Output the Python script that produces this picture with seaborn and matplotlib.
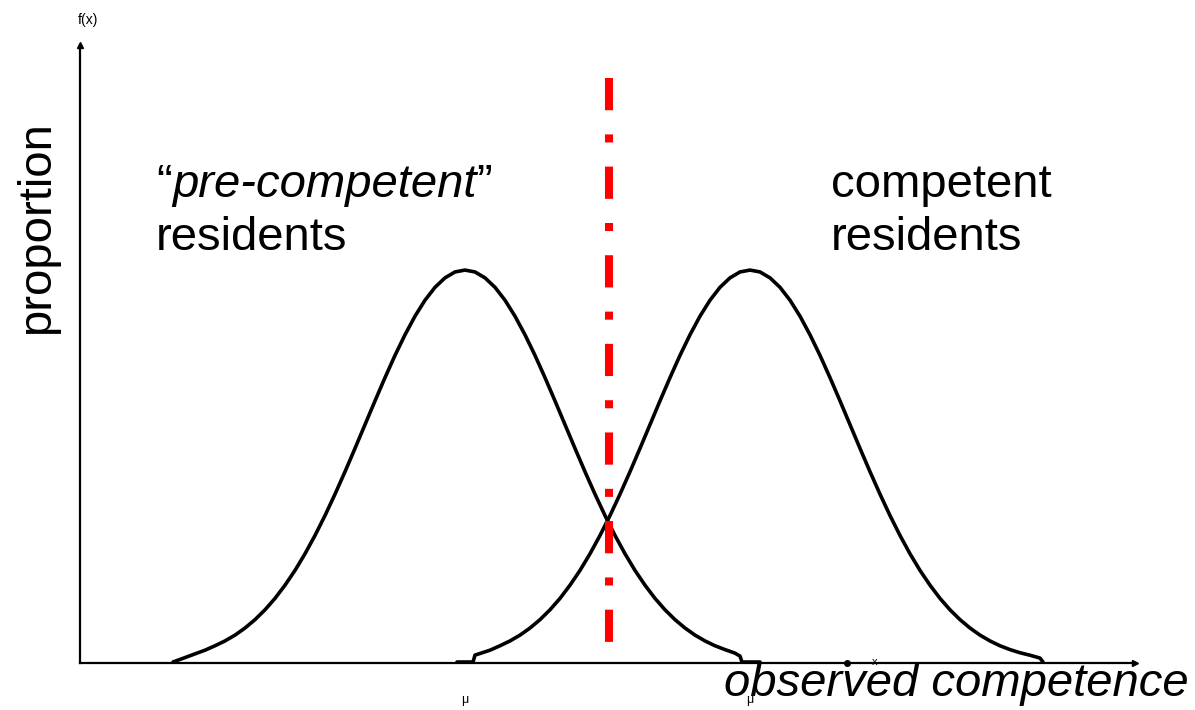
import pandas as pd
import matplotlib.pyplot as plt
import seaborn as sns

# ── Data (x in sd-like units, y as density) ───────────────────────────────────
pre_x = [0.93, 1.09, 1.25,
         1.35, 1.45, 1.55, 1.65, 1.75, 1.85, 1.95, 2.05, 2.15, 2.25, 2.35,
         2.45, 2.55, 2.65, 2.75, 2.85, 2.95, 3.05, 3.15, 3.25, 3.35, 3.45,
         3.55, 3.65, 3.75, 3.85, 3.95, 4.05, 4.15, 4.25, 4.35, 4.45, 4.55,
         4.65, 4.75, 4.85, 4.95, 5.05, 5.15, 5.25, 5.35, 5.45, 5.55, 5.65,
         5.75, 5.85, 5.95, 6.05, 6.15, 6.25, 6.35,
         6.45, 6.55, 6.60, 6.62, 6.80]
pre_y = [0.001, 0.007, 0.013,
         0.0175, 0.0224, 0.0283, 0.0355, 0.044, 0.054, 0.0656, 0.079, 0.094,
         0.1109, 0.1295, 0.1497, 0.1714, 0.1942, 0.2179, 0.242, 0.2661,
         0.2897, 0.3123, 0.3332, 0.3521, 0.3683, 0.3814, 0.391, 0.397, 0.3989,
         0.397, 0.391, 0.3814, 0.3683, 0.3521, 0.3332, 0.3123, 0.2897, 0.2661,
         0.242, 0.2179, 0.1942, 0.1714, 0.1497, 0.1295, 0.1109, 0.094, 0.079,
         0.0656, 0.054, 0.044, 0.0355, 0.0283, 0.0224, 0.0175,
         0.0136, 0.010, 0.007, 0.001, 0.001]

comp_x = [3.77, 3.93, 3.95, 4.10,
          4.20, 4.30, 4.40, 4.50, 4.60, 4.70, 4.80, 4.90, 5.00, 5.10, 5.20,
          5.30, 5.40, 5.50, 5.60, 5.70, 5.80, 5.90, 6.00, 6.10, 6.20, 6.30,
          6.40, 6.50, 6.60, 6.70, 6.80, 6.90, 7.00, 7.10, 7.20, 7.30, 7.40,
          7.50, 7.60, 7.70, 7.80, 7.90, 8.00, 8.10, 8.20, 8.30, 8.40, 8.50,
          8.60, 8.70, 8.80, 8.90, 9.00, 9.10, 9.20,
          9.30, 9.40, 9.50, 9.60, 9.63]
comp_y = [0.001, 0.001, 0.008, 0.013,
          0.0175, 0.0224, 0.0283, 0.0355, 0.044, 0.054, 0.0656, 0.079, 0.094,
          0.1109, 0.1295, 0.1497, 0.1714, 0.1942, 0.2179, 0.242, 0.2661,
          0.2897, 0.3123, 0.3332, 0.3521, 0.3683, 0.3814, 0.391, 0.397, 0.3989,
          0.397, 0.391, 0.3814, 0.3683, 0.3521, 0.3332, 0.3123, 0.2897, 0.2661,
          0.242, 0.2179, 0.1942, 0.1714, 0.1497, 0.1295, 0.1109, 0.094, 0.079,
          0.0656, 0.054, 0.044, 0.0355, 0.0283, 0.0224, 0.0175,
          0.0136, 0.0104, 0.0079, 0.005, 0.001]

cutoff_x = 5.29
cutoff_top = 0.594
mu_ticks = [3.85, 6.70]
mu_labels = ['μ', 'μ']
axis_dot_x = [7.67]

x_max = 10.55
y_max = 0.6274

# ── Style ──────────────────────────────────────────────────────────────────────
sns.set_theme(style='white')
plt.rcParams['font.family'] = ['Liberation Sans', 'DejaVu Sans']
plt.rcParams['text.color'] = 'black'
plt.rcParams['xtick.color'] = 'black'

W, H = 1195, 710
fig = plt.figure(figsize=(W / 100, H / 100), dpi=100)
ax = fig.add_axes([80 / W, (H - 663) / H, (1135 - 80) / W, (663 - 45) / H])

df = pd.DataFrame({
    'x': pre_x + comp_x,
    'y': pre_y + comp_y,
    'group': ['pre'] * len(pre_x) + ['comp'] * len(comp_x),
})
sns.lineplot(data=df, x='x', y='y', units='group', estimator=None, sort=False,
             color='black', linewidth=2.6, ax=ax, zorder=3)

# cutoff line, drawn top-down so the dashes start at the top
ax.plot([cutoff_x, cutoff_x], [cutoff_top, 0], color='#ff0000', linewidth=5.8,
        linestyle=(0, (4, 3, 1, 3)), solid_capstyle='butt', zorder=4,
        clip_on=False)

ax.plot(axis_dot_x, [0] * len(axis_dot_x), 'o', color='black', ms=4,
        clip_on=False, zorder=5)

ax.set_xlim(0, x_max)
ax.set_ylim(0, y_max)
for s in ['top', 'right']:
    ax.spines[s].set_visible(False)
for s in ['left', 'bottom']:
    ax.spines[s].set_color('black')
    ax.spines[s].set_linewidth(1.6)
ax.set_yticks([])
ax.set_xticks(mu_ticks)
ax.set_xticklabels(mu_labels, fontsize=9)
ax.tick_params(axis='x', length=0, pad=22)
ax.set_xlabel('')
ax.set_ylabel('')

# arrow heads
ax.plot(1, 0, '>', color='black', ms=5, transform=ax.get_yaxis_transform(), clip_on=False)
ax.plot(0, 1, '^', color='black', ms=5, transform=ax.get_xaxis_transform(), clip_on=False)


def px(x, y):
    return x / W, 1 - y / H


big = 34
fig.text(*px(88, 20), 'f(x)', fontsize=10, ha='center', va='center')
fig.text(*px(875, 662), 'x', fontsize=8, ha='center', va='center')
fig.text(*px(37, 228), 'proportion', fontsize=big, rotation=90,
         ha='center', va='center')

q1 = fig.text(*px(156, 197), '\u201c', fontsize=big, ha='left', va='baseline')
q2 = ax.annotate('pre-competent', xy=(1, 0), xycoords=q1, fontsize=big,
                 style='italic', ha='left', va='bottom')
ax.annotate('\u201d', xy=(1, 0), xycoords=q2, fontsize=big, ha='left', va='bottom')
fig.text(*px(156, 250), 'residents', fontsize=big, ha='left', va='baseline')

fig.text(*px(831, 197), 'competent', fontsize=big, ha='left', va='baseline')
fig.text(*px(831, 250), 'residents', fontsize=big, ha='left', va='baseline')

fig.text(*px(724, 696), 'observed competence', fontsize=big, style='italic',
         ha='left', va='baseline')

plt.savefig('out.png', dpi=100)
plt.close()
